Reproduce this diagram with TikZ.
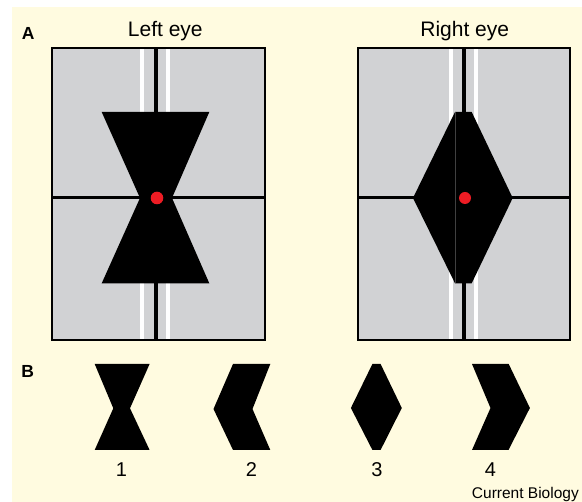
\documentclass[tikz,border=0pt]{standalone}
\usepackage{fontspec}
\setmainfont{Liberation Sans}
\definecolor{cream}{RGB}{255,251,224}
\definecolor{panelgray}{RGB}{209,210,212}
\definecolor{dotred}{RGB}{237,28,36}
\begin{document}
\begin{tikzpicture}[x=1pt,y=-1pt,
  boxfill/.style={fill=panelgray},
  boxline/.style={draw=black,line width=1.5pt},
  blackline/.style={line width=3.5pt,black},
  whiteline/.style={line width=3.5pt,white},
  hline/.style={line width=3pt,black},
  target/.style={fill=black},
  seam/.style={draw=black!75,line width=0.6pt},
  reddot/.style={fill=dotred},
  title/.style={font=\fontsize{21}{24}\selectfont,anchor=base,inner sep=0pt},
  panellabel/.style={font=\fontsize{17.5}{20}\selectfont\bfseries,anchor=base,inner sep=0pt},
  numlabel/.style={font=\fontsize{20}{24}\selectfont,anchor=base,inner sep=0pt},
  credit/.style={font=\fontsize{15.5}{18}\selectfont,anchor=base east,inner sep=0pt}]
\useasboundingbox (0,0) rectangle (582,502);
\fill[white] (0,0) rectangle (582,502);
\fill[cream] (12,7) rectangle (582,502);

% labels
\node[panellabel] (labA) at (28.3,39.3) {A};
\node[panellabel] (labB) at (27.8,377.3) {B};
\node[title] (left) at (165.3,36.7) {Left eye};
\node[title] (right) at (464.7,36.7) {Right eye};

% left eye
\fill[boxfill] (52,48) rectangle (265,340);
\draw[whiteline] (142,48) -- (142,340);
\draw[whiteline] (168,48) -- (168,340);
\draw[blackline] (156,48) -- (156,340);
\draw[hline] (52,198) -- (265,198);
\fill[target] (101.7,112) -- (209.3,112) -- (172,198) -- (209.3,283.3) -- (101.7,283.3) -- (140,198) -- cycle;
\fill[reddot] (157,198) circle (6.3);
\draw[boxline] (52,48) rectangle (265,340);

% right eye
\fill[boxfill] (358,48) rectangle (570,340);
\draw[whiteline] (451,48) -- (451,340);
\draw[whiteline] (476,48) -- (476,340);
\draw[blackline] (464,48) -- (464,340);
\draw[hline] (358,198) -- (570,198);
\fill[target] (455,112) -- (471.7,112) -- (512.7,198) -- (471.7,283.3) -- (455,283.3) -- (413,198) -- cycle;
\draw[seam] (455,112) -- (455,283.3);
\fill[reddot] (465,198) circle (6);
\draw[boxline] (358,48) rectangle (570,340);

% panel B shapes
\fill[target] (94.7,364) -- (149.6,364) -- (130,408.3) -- (149.6,450) -- (94.7,450) -- (113.3,408.3) -- cycle;
\fill[target] (233,364) -- (270.3,364) -- (252.5,409) -- (270.3,450) -- (233,450) -- (213.5,409) -- cycle;
\fill[target] (372.4,364) -- (380.6,364) -- (401.8,408) -- (380.6,450) -- (372.4,450) -- (350.9,408) -- cycle;
\fill[target] (472,364) -- (508.7,364) -- (529.9,408) -- (508.5,450) -- (472,450) -- (490.5,408) -- cycle;

\node[numlabel] (n1) at (121.5,476.5) {1};
\node[numlabel] (n2) at (251.4,476.5) {2};
\node[numlabel] (n3) at (376.9,476.5) {3};
\node[numlabel] (n4) at (490.5,476.5) {4};
\node[credit] (cb) at (579,498.3) {Current Biology};
\end{tikzpicture}
\end{document}
